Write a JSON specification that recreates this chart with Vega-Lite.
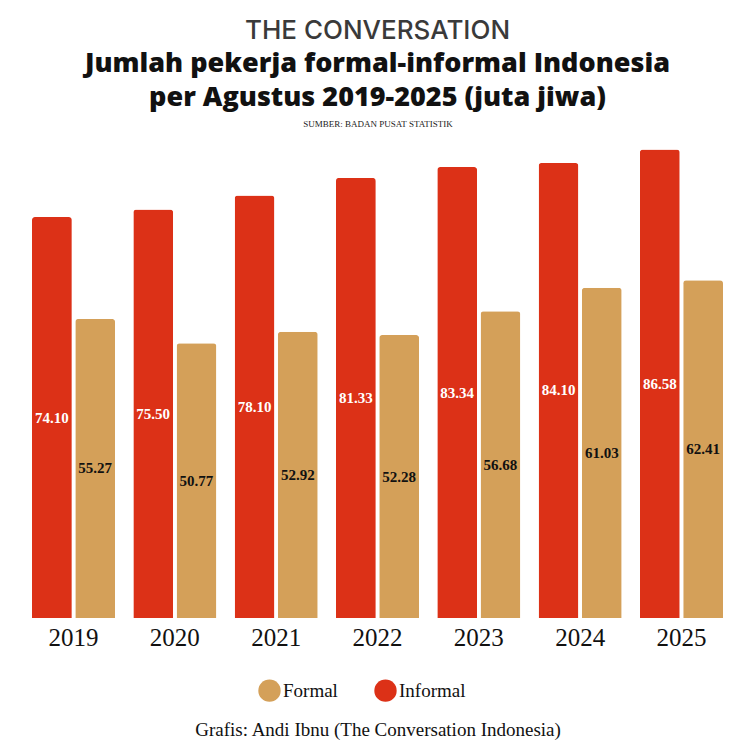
{
  "$schema": "https://vega.github.io/schema/vega-lite/v6.json",
  "autosize": {"type": "none"},
  "width": 691,
  "height": 487,
  "padding": {"left": 32, "top": 131, "right": 31, "bottom": 136},
  "background": "white",
  "title": {
    "text": "THE CONVERSATION",
    "subtitle": ["Jumlah pekerja formal-informal Indonesia", "per Agustus 2019-2025 (juta jiwa)"],
    "anchor": "middle",
    "font": "Inter",
    "fontSize": 26,
    "fontWeight": 500,
    "color": "#3a3a3a",
    "subtitleFont": "Open Sans",
    "subtitleFontSize": 27,
    "subtitleFontWeight": 800,
    "subtitleColor": "#111111",
    "subtitleLineHeight": 34,
    "subtitlePadding": 7,
    "offset": 8
  },
  "data": {
    "values": [
      {"tahun": "2019", "jenis": "Informal", "nilai": 74.10},
      {"tahun": "2019", "jenis": "Formal", "nilai": 55.27},
      {"tahun": "2020", "jenis": "Informal", "nilai": 75.50},
      {"tahun": "2020", "jenis": "Formal", "nilai": 50.77},
      {"tahun": "2021", "jenis": "Informal", "nilai": 78.10},
      {"tahun": "2021", "jenis": "Formal", "nilai": 52.92},
      {"tahun": "2022", "jenis": "Informal", "nilai": 81.33},
      {"tahun": "2022", "jenis": "Formal", "nilai": 52.28},
      {"tahun": "2023", "jenis": "Informal", "nilai": 83.34},
      {"tahun": "2023", "jenis": "Formal", "nilai": 56.68},
      {"tahun": "2024", "jenis": "Informal", "nilai": 84.10},
      {"tahun": "2024", "jenis": "Formal", "nilai": 61.03},
      {"tahun": "2025", "jenis": "Informal", "nilai": 86.58},
      {"tahun": "2025", "jenis": "Formal", "nilai": 62.41}
    ]
  },
  "encoding": {
    "x": {
      "field": "tahun",
      "type": "nominal",
      "scale": {"paddingInner": 0.18, "paddingOuter": 0}
    },
    "xOffset": {
      "field": "jenis",
      "type": "nominal",
      "scale": {"domain": ["Informal", "Formal"], "paddingInner": 0.08}
    }
  },
  "layer": [
    {
      "mark": {"type": "bar", "cornerRadiusTopLeft": 3, "cornerRadiusTopRight": 3},
      "encoding": {
        "x": {
          "field": "tahun",
          "type": "nominal",
          "axis": {
            "title": "Grafis: Andi Ibnu (The Conversation Indonesia)",
            "titleFont": "Liberation Serif",
            "titleFontSize": 19,
            "titleFontWeight": "normal",
            "titleColor": "#111111",
            "titlePadding": 70,
            "orient": "bottom",
            "domain": false,
            "ticks": false,
            "labelAngle": 0,
            "labelFont": "Liberation Serif",
            "labelFontSize": 25,
            "labelColor": "#111111",
            "labelPadding": 7
          }
        },
        "y": {
          "field": "nilai",
          "type": "quantitative",
          "scale": {"domain": [0, 90], "nice": false},
          "axis": null
        },
        "color": {
          "field": "jenis",
          "type": "nominal",
          "scale": {"domain": ["Formal", "Informal"], "range": ["#D4A059", "#DC3117"]},
          "legend": {
            "orient": "none",
            "legendX": 226,
            "legendY": 548,
            "direction": "horizontal",
            "title": null,
            "symbolType": "circle",
            "symbolSize": 500,
            "symbolStrokeWidth": 0,
            "symbolOpacity": 1,
            "labelFont": "Liberation Serif",
            "labelFontSize": 19,
            "labelColor": "#111111",
            "labelOffset": 2,
            "columnPadding": 36
          }
        }
      }
    },
    {
      "transform": [{"calculate": "datum.nilai / 2", "as": "tengah"}],
      "mark": {"type": "text", "font": "Liberation Serif", "fontWeight": "bold", "fontSize": 15},
      "encoding": {
        "x": {
          "field": "tahun",
          "type": "nominal",
          "axis": {
            "orient": "top",
            "labels": false,
            "ticks": false,
            "domain": false,
            "title": "SUMBER: BADAN PUSAT STATISTIK",
            "titleFont": "Liberation Serif",
            "titleFontSize": 9,
            "titleFontWeight": "normal",
            "titleColor": "#222222",
            "titlePadding": 3
          }
        },
        "y": {"field": "tengah", "type": "quantitative"},
        "text": {"field": "nilai", "type": "quantitative", "format": ".2f"},
        "color": {
          "field": "jenis",
          "type": "nominal",
          "scale": {"domain": ["Formal", "Informal"], "range": ["#111111", "#ffffff"]},
          "legend": null
        }
      }
    }
  ],
  "resolve": {"axis": {"x": "independent"}, "scale": {"color": "independent"}},
  "config": {"view": {"stroke": null}}
}
